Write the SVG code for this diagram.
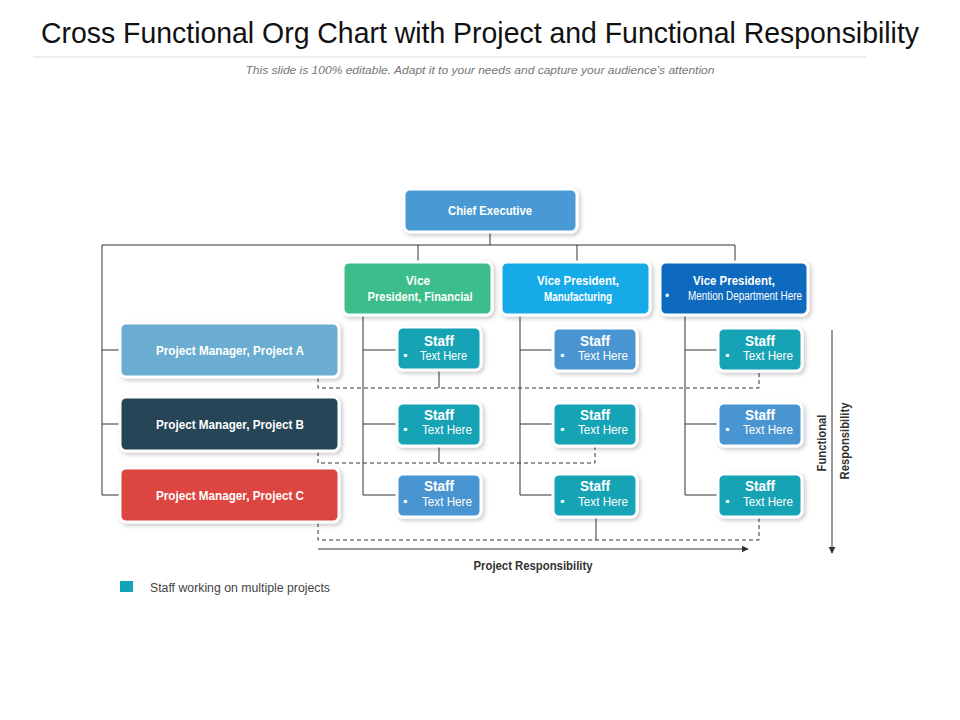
<svg xmlns="http://www.w3.org/2000/svg" width="960" height="720" viewBox="0 0 960 720">
<style>
.t{font-family:"Liberation Sans",Arial,sans-serif}
.title{font-size:30px;fill:#111}
.sub{font-size:11.5px;fill:#777;font-style:italic}
.bw{font-weight:bold;fill:#fff;font-size:12px}
.st{font-weight:bold;fill:#fff;font-size:14px}
.tx{fill:#fff;font-size:12px}
.box{stroke:#fff;stroke-width:3;filter:url(#sh)}
.ln{stroke:#333;stroke-width:1;fill:none}
.ds{stroke:#333;stroke-width:1;fill:none;stroke-dasharray:4 3}
.lbl{font-weight:bold;fill:#333;font-size:12px}
.teal{fill:#12A3B5}
.blue{fill:#4A95D1}
</style>
<defs>
<filter id="sh" x="-20%" y="-30%" width="140%" height="160%">
<feDropShadow dx="2" dy="2" stdDeviation="2" flood-color="#000" flood-opacity="0.22"/>
</filter>
<marker id="ah" viewBox="0 0 10 10" refX="9" refY="5" markerWidth="7" markerHeight="7" orient="auto" markerUnits="userSpaceOnUse">
<path d="M0,0 L10,5 L0,10 z" fill="#333"/>
</marker>
</defs>
<rect width="960" height="720" fill="#fff"/>
<text class="t title" x="480" y="43" text-anchor="middle" textLength="878" lengthAdjust="spacingAndGlyphs">Cross Functional Org Chart with Project and Functional Responsibility</text>
<line x1="33" y1="57" x2="866" y2="57" stroke="#e6e6e6" stroke-width="1.5"/>
<text class="t sub" x="480" y="74" text-anchor="middle" textLength="469" lengthAdjust="spacingAndGlyphs">This slide is 100% editable. Adapt it to your needs and capture your audience’s attention</text>

<g id="connectors">
<path class="ln" d="M490,232 V245 M102,245 H735 M418,245 V262 M577,245 V262 M735,245 V262"/>
<path class="ln" d="M102,245 V495 M102,350 H120 M102,424 H120 M102,495 H120"/>
<path class="ln" d="M363,315 V495 M363,350 H397 M363,424 H397 M363,495 H397"/>
<path class="ln" d="M520,315 V495 M520,350 H553 M520,424 H553 M520,495 H553"/>
<path class="ln" d="M685,315 V495 M685,350 H718 M685,424 H718 M685,495 H718"/>
<path class="ln" d="M439,370 V388 M439,446 V463 M596,517 V540"/>
<path class="ds" d="M318,378 V388 H759 V371"/>
<path class="ds" d="M318,452 V463 H595 V446"/>
<path class="ds" d="M318,523 V540 H759 V517"/>
<line class="ln" x1="318" y1="549" x2="748" y2="549" marker-end="url(#ah)"/>
<line class="ln" x1="832" y1="330" x2="832" y2="553" marker-end="url(#ah)"/>
</g>

<g id="chief">
<rect class="box" x="404" y="189" width="173" height="43" rx="6" fill="#4A9AD4"/>
<text class="t bw" x="490" y="215" text-anchor="middle" textLength="84" lengthAdjust="spacingAndGlyphs">Chief Executive</text>
</g>
<g id="vp-fin">
<rect class="box" x="343" y="262" width="149" height="53" rx="6" fill="#3BBE8C"/>
<text class="t bw" x="418" y="285" text-anchor="middle">Vice</text>
<text class="t bw" x="420" y="301" text-anchor="middle" textLength="105" lengthAdjust="spacingAndGlyphs">President, Financial</text>
</g>
<g id="vp-mfg">
<rect class="box" x="501" y="262" width="149" height="53" rx="6" fill="#18ABE8"/>
<text class="t bw" x="578" y="285" text-anchor="middle" textLength="82" lengthAdjust="spacingAndGlyphs">Vice President,</text>
<text class="t bw" x="578" y="301" text-anchor="middle" textLength="68" lengthAdjust="spacingAndGlyphs">Manufacturing</text>
</g>
<g id="vp-dept">
<rect class="box" x="660" y="262" width="148" height="53" rx="6" fill="#0B6BBE"/>
<text class="t bw" x="734" y="285" text-anchor="middle" textLength="82" lengthAdjust="spacingAndGlyphs">Vice President,</text>
<text class="t tx" x="665" y="300" font-size="9">•</text>
<text class="t tx" x="688" y="300" font-size="10" textLength="114" lengthAdjust="spacingAndGlyphs">Mention Department Here</text>
</g>

<g id="pm-a">
<rect class="box" x="120" y="323" width="219" height="54" rx="6" fill="#6AADD0"/>
<text class="t bw" x="230" y="355" text-anchor="middle" textLength="148" lengthAdjust="spacingAndGlyphs">Project Manager, Project A</text>
</g>
<g id="pm-b">
<rect class="box" x="120" y="397" width="219" height="54" rx="6" fill="#284457"/>
<text class="t bw" x="230" y="429" text-anchor="middle" textLength="148" lengthAdjust="spacingAndGlyphs">Project Manager, Project B</text>
</g>
<g id="pm-c">
<rect class="box" x="120" y="468" width="219" height="54" rx="6" fill="#DD4440"/>
<text class="t bw" x="230" y="500" text-anchor="middle" textLength="148" lengthAdjust="spacingAndGlyphs">Project Manager, Project C</text>
</g>

<g id="staff-1-1">
<rect class="box teal" x="397" y="327" width="84" height="43" rx="6"/>
<text class="t st" x="439" y="346" text-anchor="middle" textLength="30" lengthAdjust="spacingAndGlyphs">Staff</text>
<text class="t tx" x="403" y="359" font-size="9">▪</text>
<text class="t tx" x="420" y="360" textLength="47" lengthAdjust="spacingAndGlyphs">Text Here</text>
</g>
<g id="staff-1-2">
<rect class="box teal" x="397" y="403" width="84" height="43" rx="6"/>
<text class="t st" x="439" y="420" text-anchor="middle" textLength="30" lengthAdjust="spacingAndGlyphs">Staff</text>
<text class="t tx" x="403" y="433" font-size="9">▪</text>
<text class="t tx" x="422" y="434" textLength="50" lengthAdjust="spacingAndGlyphs">Text Here</text>
</g>
<g id="staff-1-3">
<rect class="box blue" x="397" y="474" width="84" height="43" rx="6"/>
<text class="t st" x="439" y="491" text-anchor="middle" textLength="30" lengthAdjust="spacingAndGlyphs">Staff</text>
<text class="t tx" x="403" y="505" font-size="9">▪</text>
<text class="t tx" x="422" y="506" textLength="50" lengthAdjust="spacingAndGlyphs">Text Here</text>
</g>
<g id="staff-2-1">
<rect class="box blue" x="553" y="328" width="84" height="43" rx="6"/>
<text class="t st" x="595" y="346" text-anchor="middle" textLength="30" lengthAdjust="spacingAndGlyphs">Staff</text>
<text class="t tx" x="560" y="359" font-size="9">▪</text>
<text class="t tx" x="578" y="360" textLength="50" lengthAdjust="spacingAndGlyphs">Text Here</text>
</g>
<g id="staff-2-2">
<rect class="box teal" x="553" y="403" width="84" height="43" rx="6"/>
<text class="t st" x="595" y="420" text-anchor="middle" textLength="30" lengthAdjust="spacingAndGlyphs">Staff</text>
<text class="t tx" x="560" y="433" font-size="9">▪</text>
<text class="t tx" x="578" y="434" textLength="50" lengthAdjust="spacingAndGlyphs">Text Here</text>
</g>
<g id="staff-2-3">
<rect class="box teal" x="553" y="474" width="84" height="43" rx="6"/>
<text class="t st" x="595" y="491" text-anchor="middle" textLength="30" lengthAdjust="spacingAndGlyphs">Staff</text>
<text class="t tx" x="560" y="505" font-size="9">▪</text>
<text class="t tx" x="578" y="506" textLength="50" lengthAdjust="spacingAndGlyphs">Text Here</text>
</g>
<g id="staff-3-1">
<rect class="box teal" x="718" y="328" width="84" height="43" rx="6"/>
<text class="t st" x="760" y="346" text-anchor="middle" textLength="30" lengthAdjust="spacingAndGlyphs">Staff</text>
<text class="t tx" x="725" y="359" font-size="9">▪</text>
<text class="t tx" x="743" y="360" textLength="50" lengthAdjust="spacingAndGlyphs">Text Here</text>
</g>
<g id="staff-3-2">
<rect class="box blue" x="718" y="403" width="84" height="43" rx="6"/>
<text class="t st" x="760" y="420" text-anchor="middle" textLength="30" lengthAdjust="spacingAndGlyphs">Staff</text>
<text class="t tx" x="725" y="433" font-size="9">▪</text>
<text class="t tx" x="743" y="434" textLength="50" lengthAdjust="spacingAndGlyphs">Text Here</text>
</g>
<g id="staff-3-3">
<rect class="box teal" x="718" y="474" width="84" height="43" rx="6"/>
<text class="t st" x="760" y="491" text-anchor="middle" textLength="30" lengthAdjust="spacingAndGlyphs">Staff</text>
<text class="t tx" x="725" y="505" font-size="9">▪</text>
<text class="t tx" x="743" y="506" textLength="50" lengthAdjust="spacingAndGlyphs">Text Here</text>
</g>

<g id="labels">
<text class="t lbl" x="533" y="570" text-anchor="middle" textLength="119" lengthAdjust="spacingAndGlyphs">Project Responsibility</text>
<text class="t lbl" transform="translate(826,443) rotate(-90)" text-anchor="middle" textLength="57" lengthAdjust="spacingAndGlyphs">Functional</text>
<text class="t lbl" transform="translate(849,441) rotate(-90)" text-anchor="middle" textLength="77" lengthAdjust="spacingAndGlyphs">Responsibility</text>
</g>

<g id="legend">
<rect x="120" y="581" width="13" height="11" fill="#12A3B5"/>
<text class="t" x="150" y="592" font-size="12" fill="#444" textLength="180" lengthAdjust="spacingAndGlyphs">Staff working on multiple projects</text>
</g>
</svg>
